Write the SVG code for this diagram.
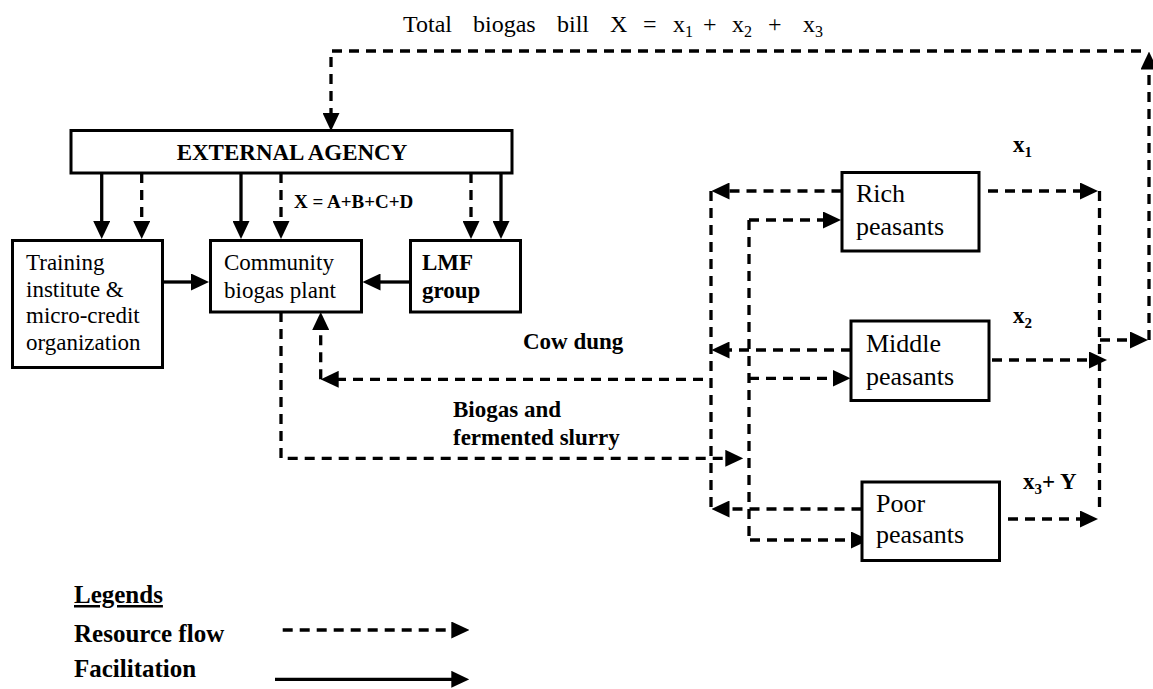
<svg xmlns="http://www.w3.org/2000/svg" width="1153" height="689" viewBox="0 0 1153 689">
<style>
.box{fill:#fff;stroke:#000;stroke-width:3}
.t{font-family:"Liberation Serif","Times New Roman",serif;fill:#000}
.b{font-weight:bold}
.f{fill:none;stroke:#000;stroke-width:3.3}
.r{fill:none;stroke:#000;stroke-width:3.3;stroke-dasharray:10 7}
</style>
<defs>
<marker id="a" viewBox="0 0 18 17" markerWidth="18" markerHeight="17" refX="1" refY="8.5" orient="auto" markerUnits="userSpaceOnUse">
<path d="M0,0 L18,8.5 L0,17 z" fill="#000"/>
</marker>
</defs>
<rect width="1153" height="689" fill="#fff"/>

<text class="t" font-size="24" y="32"><tspan x="403">Total</tspan><tspan x="473">biogas</tspan><tspan x="557">bill</tspan><tspan x="610">X</tspan><tspan x="643">=</tspan><tspan x="673">x</tspan><tspan x="685" dy="5" font-size="16">1</tspan><tspan x="703" dy="-5">+</tspan><tspan x="732">x</tspan><tspan x="744" dy="5" font-size="16">2</tspan><tspan x="768" dy="-5">+</tspan><tspan x="803">x</tspan><tspan x="815" dy="5" font-size="16">3</tspan></text>

<g id="connectors">
<path class="f" d="M101.7,173 V222" marker-end="url(#a)"/>
<path class="f" d="M241,173 V222" marker-end="url(#a)"/>
<path class="f" d="M501,173 V222" marker-end="url(#a)"/>
<path class="f" d="M163,282 H192" marker-end="url(#a)"/>
<path class="f" d="M410.5,282 H379.5" marker-end="url(#a)"/>
<path class="r" d="M141.7,173 V222" marker-end="url(#a)"/>
<path class="r" d="M281,173 V222" marker-end="url(#a)"/>
<path class="r" d="M471,173 V222" marker-end="url(#a)"/>
<path class="r" d="M1149,340 V68.5" marker-end="url(#a)"/>
<path class="r" d="M1141,51 H331 V114" marker-end="url(#a)"/>
<path class="r" d="M988,191 H1081" marker-end="url(#a)"/>
<path class="r" d="M1099.5,191 V508"/>
<path class="r" d="M992,360 H1090" marker-end="url(#a)"/>
<path class="r" d="M1100,340 H1131" marker-end="url(#a)"/>
<path class="r" d="M1008,519 H1081" marker-end="url(#a)"/>
<path class="r" d="M841.5,191 H728.5" marker-end="url(#a)"/>
<path class="r" d="M851,350 H728.5" marker-end="url(#a)"/>
<path class="r" d="M861.5,509 H728.5" marker-end="url(#a)"/>
<path class="r" d="M711,191 V509"/>
<path class="r" d="M703,379.3 H337.7" marker-end="url(#a)"/>
<path class="r" d="M320.7,379.3 V329" marker-end="url(#a)"/>
<path class="r" d="M749,220 V540"/>
<path class="r" d="M749,220 H824" marker-end="url(#a)"/>
<path class="r" d="M749,378.3 H833.5" marker-end="url(#a)"/>
<path class="r" d="M750,540 H852" marker-end="url(#a)"/>
<path class="r" d="M281,312 V458.3 H726.3" marker-end="url(#a)"/>
</g>

<g id="external-agency">
<rect class="box" x="71" y="130.5" width="441" height="42.5"/>
<text class="t b" font-size="23" x="292" y="160" text-anchor="middle">EXTERNAL AGENCY</text>
</g>
<text class="t b" font-size="19" x="294" y="208">X = A+B+C+D</text>

<g id="training">
<rect class="box" x="12.5" y="240.5" width="150" height="127"/>
<text class="t" font-size="23" x="26"><tspan x="26" y="270">Training</tspan><tspan x="26" y="296.5">institute &amp;</tspan><tspan x="26" y="323">micro-credit</tspan><tspan x="26" y="349.5">organization</tspan></text>
</g>

<g id="community">
<rect class="box" x="210.5" y="240.5" width="151" height="71.5"/>
<text class="t" font-size="23"><tspan x="224" y="270">Community</tspan><tspan x="224" y="297.5">biogas plant</tspan></text>
</g>

<g id="lmf">
<rect class="box" x="410.5" y="240.5" width="110" height="71.5"/>
<text class="t b" font-size="23"><tspan x="422" y="270">LMF</tspan><tspan x="422" y="297.5">group</tspan></text>
</g>

<g id="rich">
<rect class="box" x="842" y="172.5" width="137" height="78.5"/>
<text class="t" font-size="26"><tspan x="856" y="202">Rich</tspan><tspan x="856" y="235">peasants</tspan></text>
</g>

<g id="middle">
<rect class="box" x="851" y="321" width="138" height="79.5"/>
<text class="t" font-size="26"><tspan x="866" y="352">Middle</tspan><tspan x="866" y="385">peasants</tspan></text>
</g>

<g id="poor">
<rect class="box" x="862" y="482" width="137.5" height="78.5"/>
<text class="t" font-size="26"><tspan x="876" y="512">Poor</tspan><tspan x="876" y="543">peasants</tspan></text>
</g>

<text class="t b" font-size="23" x="1013" y="152">x<tspan font-size="15" dy="5">1</tspan></text>
<text class="t b" font-size="23" x="1013" y="323">x<tspan font-size="15" dy="5">2</tspan></text>
<text class="t b" font-size="23" x="1023" y="489">x<tspan font-size="15" dy="5">3</tspan><tspan dy="-5">+ Y</tspan></text>

<text class="t b" font-size="23" x="523" y="349">Cow dung</text>
<text class="t b" font-size="23"><tspan x="453" y="417">Biogas and</tspan><tspan x="453" y="445">fermented slurry</tspan></text>

<g id="legend">
<text class="t b" font-size="25" x="74" y="603" text-decoration="underline">Legends</text>
<text class="t b" font-size="25" x="74" y="642">Resource flow</text>
<text class="t b" font-size="25" x="74" y="677">Facilitation</text>
<path class="r" d="M282.7,630 H452.3" marker-end="url(#a)"/>
<path class="f" d="M275,679.3 H452.3" marker-end="url(#a)"/>
</g>
</svg>
